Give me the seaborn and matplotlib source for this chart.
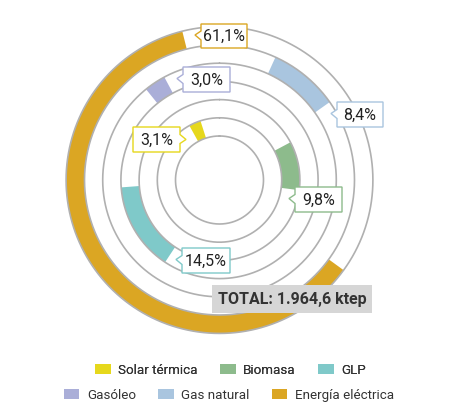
import numpy as np
import matplotlib
matplotlib.use("Agg")
import matplotlib.pyplot as plt
import seaborn as sns
from matplotlib.patches import Polygon, Patch, Rectangle

# ---------------- data ----------------
categories = ["Solar térmica", "Biomasa", "GLP", "Gasóleo", "Gas natural", "Energía eléctrica"]
values = [3.1, 9.8, 14.5, 3.0, 8.4, 61.1]
value_labels = ["3,1%", "9,8%", "14,5%", "3,0%", "8,4%", "61,1%"]
total_label = "TOTAL: 1.964,6 ktep"

# ---------------- style / layout ----------------
colors = ["#E6D81C", "#8DBB8C", "#7FC9C9", "#AAAED8", "#A9C5DF", "#DBA623"]
start_deg = [331, 62, 213.5, 321, 24.5, 126]      # arc start (clockwise from top)
radii = [44, 62.2, 80.4, 98.6, 116.8, 135, 153.4]  # ring boundaries (px)

sns.set_theme(style="white")
FONT = ["Roboto", "DejaVu Sans"]
plt.rcParams["font.family"] = FONT

W, H = 468, 411
fig = plt.figure(figsize=(W / 100, H / 100), dpi=100)
fig.patch.set_facecolor("white")

cx, cy, R = 219.5, 180.0, 156.0
ax = fig.add_axes([(cx - R) / W, (H - cy - R) / H, 2 * R / W, 2 * R / H], projection="polar")
ax.set_theta_zero_location("N")
ax.set_theta_direction(-1)
ax.set_ylim(0, R)
ax.axis("off")

for i, (v, c) in enumerate(zip(values, colors)):
    ax.bar(np.deg2rad(start_deg[i]), radii[i + 1] - radii[i], width=np.deg2rad(v * 3.6),
           bottom=radii[i], align="edge", color=c, edgecolor="none", zorder=2)

theta = np.linspace(0, 2 * np.pi, 721)
for r in radii:
    ax.plot(theta, np.full_like(theta, r), color="#B0B0B0", lw=1.2, zorder=3)


def px(x, y):
    return (x / W, 1 - y / H)


# label boxes with pointer (x0, y0, x1, y1, side)
boxes = [
    (133, 127, 180, 152, "right"),
    (295, 187, 342, 212, "left"),
    (182, 248, 230, 273, "left"),
    (183, 67, 230, 92, "left"),
    (337, 102, 383, 127, "left"),
    (201, 24, 247, 48, "left"),
]

for (x0, y0, x1, y1, side), lab, c in zip(boxes, value_labels, colors):
    yc = (y0 + y1) / 2
    if side == "left":
        pts = [(x0, y0), (x1, y0), (x1, y1), (x0, y1), (x0, yc + 4), (x0 - 6, yc - 1), (x0, yc - 5)]
    else:
        pts = [(x0, y0), (x1, y0), (x1, yc - 5), (x1 + 6, yc), (x1, yc + 4), (x1, y1), (x0, y1)]
    poly = Polygon([px(*p) for p in pts], closed=True, transform=fig.transFigure,
                   facecolor="white", edgecolor=c, lw=1.0, zorder=5)
    fig.add_artist(poly)
    fig.text(*px((x0 + x1) / 2, yc + 0.5), lab, ha="center", va="center",
             fontsize=11.5, color="#222222", zorder=6)

# total box
bx0, by0, bx1, by1 = 212, 285, 372, 313
fig.add_artist(Rectangle(px(bx0, by1), (bx1 - bx0) / W, (by1 - by0) / H,
                         transform=fig.transFigure, facecolor="#D6D6D6",
                         edgecolor="none", zorder=5))
fig.text(*px((bx0 + bx1) / 2, (by0 + by1) / 2 + 0.5), total_label, ha="center", va="center",
         fontsize=11.5, fontweight="bold", color="#333333", zorder=6)

# legend (two centred rows)
handles = [Patch(facecolor=c, edgecolor="none") for c in colors]
common = dict(loc="center", ncol=3, frameon=False, fontsize=9.6, handlelength=1.15,
              handleheight=0.75, handletextpad=0.55, columnspacing=1.7, labelcolor="#333333")
leg1 = fig.legend(handles[:3], categories[:3], bbox_to_anchor=px(230.5, 370), **common)
fig.add_artist(leg1)
fig.legend(handles[3:], categories[3:], bbox_to_anchor=px(229, 395), **common)

fig.savefig("out.png", dpi=100, facecolor="white")
